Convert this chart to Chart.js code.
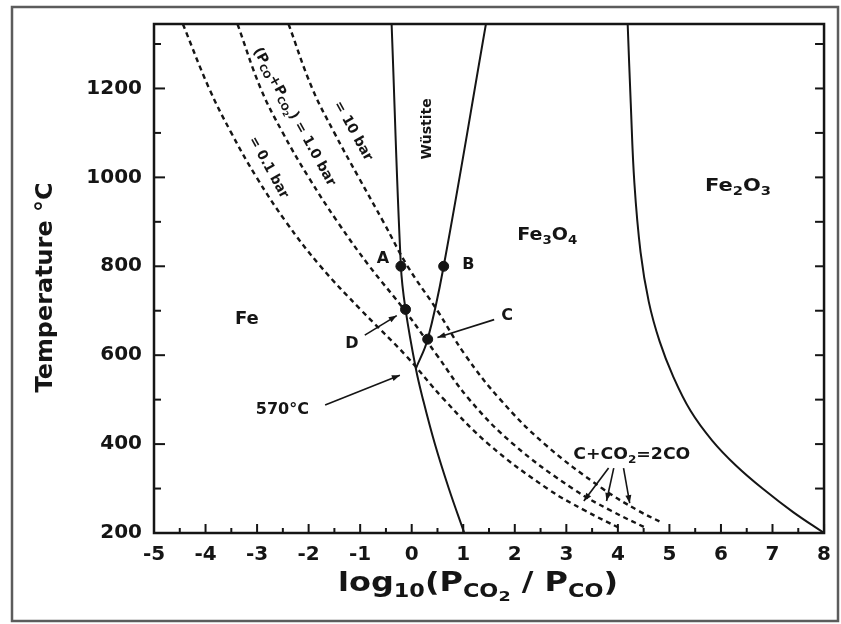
<!DOCTYPE html>
<html>
<head>
<meta charset="utf-8">
<script src="https://cdn.jsdelivr.net/npm/chart.js@4.4.1/dist/chart.umd.min.js"></script>
<style>
  html, body { margin: 0; padding: 0; background: #fff; }
  #wrap { position: relative; width: 841px; height: 624px; }
</style>
</head>
<body>
<div id="wrap"><canvas id="phaseChart" width="841" height="624"></canvas></div>
<script>
// ===================== DATA =====================
// x = log10(Pco2 / Pco), y = temperature in °C

// Fe | Wustite above 570 °C, Fe | Fe3O4 below
const feLineX = [-0.39, -0.21, -0.12, 0.08, 0.22, 0.45, 0.72, 1.02];
const feLineT = [1345, 800, 703, 570, 500, 400, 300, 200];

// Wustite | Fe3O4
const wustiteLineX = [0.08, 0.31, 0.62, 1.44];
const wustiteLineT = [570, 636, 800, 1345];

// Fe3O4 | Fe2O3
const hematiteLineX = [4.19, 4.25, 4.32, 4.44, 4.60, 4.81, 5.07, 5.41, 5.83, 6.29, 6.85, 7.40, 8.00];
const hematiteLineT = [1345, 1166, 988, 832, 720, 631, 553, 475, 408, 352, 296, 247, 200];

// C + CO2 = 2CO at (Pco + Pco2) = 0.1, 1.0 and 10 bar
const carbon01X = [-4.44, -3.93, -3.50, -3.01, -2.44, -1.77, -0.97, -0.12, 0.63, 1.49, 2.63, 3.37, 4.05];
const carbon01T = [1345, 1200, 1100, 1000, 900, 800, 700, 600, 500, 400, 300, 250, 210];
const carbon1X = [-3.38, -2.93, -2.50, -2.00, -1.44, -0.82, -0.13, 0.49, 1.12, 1.97, 3.12, 3.87, 4.57];
const carbon1T = [1345, 1200, 1100, 1000, 900, 800, 700, 600, 500, 400, 300, 250, 210];
const carbon10X = [-2.39, -1.93, -1.50, -1.03, -0.55, -0.08, 0.50, 1.04, 1.72, 2.58, 3.70, 4.40, 4.88];
const carbon10T = [1345, 1200, 1100, 1000, 900, 800, 700, 600, 500, 400, 300, 250, 222];

// marked points A, B, C, D
const pointNames = ['A', 'B', 'C', 'D'];
const pointX = [-0.21, 0.62, 0.31, -0.12];
const pointT = [800, 800, 636, 703];

// axis ticks
const xMin = -5, xMax = 8, xStep = 1;
const tMin = 200, tMax = 1345, tStep = 200;

// ===================== HELPERS =====================
const FONT = '"DejaVu Sans", "Liberation Sans", Arial, sans-serif';
const INK = '#151515';

function toPoints(xs, ts) {
  return xs.map((x, i) => ({ x: x, y: ts[i] }));
}

function boundary(xs, ts, dashed) {
  return {
    type: 'line',
    data: toPoints(xs, ts),
    borderColor: INK,
    borderWidth: dashed ? 2.4 : 2,
    borderDash: dashed ? [5, 4] : [],
    pointRadius: 0,
    tension: 0.4,
    fill: false
  };
}

// draws text made of parts: [text, level] with level 0 normal, 1 subscript, 2 sub-subscript
function richText(ctx, parts, x, y, size, align, stretch) {
  const sizes = [size, size * 0.7, size * 0.55];
  const drops = [0, size * 0.3, size * 0.48];
  let total = 0;
  const widths = parts.map(([t, lv]) => {
    ctx.font = 'bold ' + sizes[lv] + 'px ' + FONT;
    const w = ctx.measureText(t).width;
    total += w;
    return w;
  });
  const sx = stretch ? stretch / total : 1;
  ctx.save();
  ctx.translate(x, y);
  ctx.scale(sx, 1);
  let cx = align === 'center' ? -total / 2 : 0;
  ctx.textAlign = 'left';
  ctx.textBaseline = 'middle';
  parts.forEach(([t, lv], i) => {
    ctx.font = 'bold ' + sizes[lv] + 'px ' + FONT;
    ctx.fillText(t, cx, drops[lv]);
    cx += widths[i];
  });
  ctx.restore();
}

function arrow(ctx, x1, y1, x2, y2) {
  ctx.beginPath();
  ctx.moveTo(x1, y1);
  ctx.lineTo(x2, y2);
  ctx.stroke();
  const ang = Math.atan2(y2 - y1, x2 - x1), L = 8, W = 3;
  ctx.beginPath();
  ctx.moveTo(x2, y2);
  ctx.lineTo(x2 - L * Math.cos(ang) + W * Math.sin(ang), y2 - L * Math.sin(ang) - W * Math.cos(ang));
  ctx.lineTo(x2 - L * Math.cos(ang) - W * Math.sin(ang), y2 - L * Math.sin(ang) + W * Math.cos(ang));
  ctx.closePath();
  ctx.fill();
}

// ===================== OVERLAY PLUGIN =====================
const overlay = {
  id: 'overlay',
  beforeDraw(chart) {
    const ctx = chart.ctx;
    ctx.save();
    ctx.fillStyle = '#fff';
    ctx.fillRect(0, 0, chart.width, chart.height);
    ctx.strokeStyle = '#5c5c5c';
    ctx.lineWidth = 2.5;
    ctx.strokeRect(12, 7, 826, 614);
    ctx.restore();
  },
  afterDraw(chart) {
    const ctx = chart.ctx;
    const a = chart.chartArea;
    const xs = chart.scales.x, ys = chart.scales.y;
    const px = v => xs.getPixelForValue(v);
    const py = v => ys.getPixelForValue(v);

    ctx.save();
    ctx.strokeStyle = INK;
    ctx.fillStyle = INK;

    // plot frame
    ctx.lineWidth = 2.5;
    ctx.strokeRect(a.left, a.top, a.right - a.left, a.bottom - a.top);

    // inward ticks, majors from the scale, minors halfway between
    ctx.lineWidth = 2;
    const xt = xs.ticks.map(t => t.value);
    xt.forEach((v, i) => {
      const p = px(v);
      ctx.beginPath(); ctx.moveTo(p, a.bottom); ctx.lineTo(p, a.bottom - 9); ctx.stroke();
      if (i < xt.length - 1) {
        const m = px((v + xt[i + 1]) / 2);
        ctx.beginPath(); ctx.moveTo(m, a.bottom); ctx.lineTo(m, a.bottom - 5); ctx.stroke();
      }
    });
    const yt = ys.ticks.map(t => t.value);
    const yAll = [];
    yt.forEach((v, i) => {
      yAll.push([v, true]);
      const next = i < yt.length - 1 ? yt[i + 1] : v + tStep;
      const mid = (v + next) / 2;
      if (mid < tMax) yAll.push([mid, false]);
    });
    yAll.forEach(([v, major]) => {
      const p = py(v);
      ctx.beginPath(); ctx.moveTo(a.left, p); ctx.lineTo(a.left + (major ? 11 : 7), p); ctx.stroke();
      ctx.beginPath(); ctx.moveTo(a.right, p); ctx.lineTo(a.right - 9, p); ctx.stroke();
    });

    // region labels
    richText(ctx, [['Fe', 0]], px(-3.20), py(680), 18, 'center');
    richText(ctx, [['Fe', 0], ['3', 1], ['O', 0], ['4', 1]], px(2.63), py(868), 17, 'center', 60);
    richText(ctx, [['Fe', 0], ['2', 1], ['O', 0], ['3', 1]], px(6.33), py(979), 17, 'center', 66);
    ctx.save();
    ctx.translate(px(0.31), py(1109));
    ctx.rotate(-Math.PI / 2);
    richText(ctx, [['Wüstite', 0]], 0, 0, 14, 'center');
    ctx.restore();

    // point letters
    richText(ctx, [['A', 0]], px(-0.56), py(816), 16, 'center');
    richText(ctx, [['B', 0]], px(1.10), py(803), 16, 'center');
    richText(ctx, [['C', 0]], px(1.85), py(689), 16, 'center');
    richText(ctx, [['D', 0]], px(-1.16), py(625), 16, 'center');
    richText(ctx, [['570°C', 0]], px(-2.51), py(477), 16, 'center');
    richText(ctx, [['C+CO', 0], ['2', 1], ['=2CO', 0]], px(4.27), py(375), 16, 'center', 117);

    // labels along the dashed curves
    const rot = 61 * Math.PI / 180;
    const along = (parts, x, t, w) => {
      ctx.save();
      ctx.translate(px(x), py(t));
      ctx.rotate(rot);
      richText(ctx, parts, 0, 0, 14, 'center', w);
      ctx.restore();
    };
    along([['= 0.1 bar', 0]], -2.78, 1022, 68);
    along([['(P', 0], ['CO', 1], ['+P', 0], ['CO', 1], ['2', 2], [') = 1.0 bar', 0]], -2.28, 1136, 156);
    along([['= 10 bar', 0]], -1.14, 1104, 66);

    // arrows
    ctx.lineWidth = 1.6;
    arrow(ctx, px(-0.91), py(645), px(-0.29), py(689));
    arrow(ctx, px(1.60), py(680), px(0.50), py(640));
    arrow(ctx, px(-1.68), py(488), px(-0.23), py(555));
    arrow(ctx, px(3.82), py(346), px(3.34), py(272));
    arrow(ctx, px(3.92), py(346), px(3.78), py(272));
    arrow(ctx, px(4.11), py(346), px(4.23), py(267));

    // axis titles
    ctx.save();
    ctx.translate(46, (a.top + a.bottom) / 2 + 9);
    ctx.rotate(-Math.PI / 2);
    richText(ctx, [['Temperature °C', 0]], 0, 0, 23, 'center', 210);
    ctx.restore();
    richText(ctx, [['log', 0], ['10', 1], ['(P', 0], ['CO', 1], ['2', 2], [' / P', 0], ['CO', 1], [')', 0]],
      478, 584, 27, 'center', 280);

    ctx.restore();
  }
};

// ===================== CHART =====================
const datasets = [
  boundary(feLineX, feLineT, false),
  boundary(wustiteLineX, wustiteLineT, false),
  boundary(hematiteLineX, hematiteLineT, false),
  boundary(carbon01X, carbon01T, true),
  boundary(carbon1X, carbon1T, true),
  boundary(carbon10X, carbon10T, true),
  {
    type: 'scatter',
    label: 'points',
    data: toPoints(pointX, pointT),
    pointRadius: 5,
    pointBackgroundColor: INK,
    pointBorderColor: INK,
    showLine: false
  }
];

new Chart(document.getElementById('phaseChart'), {
  type: 'line',
  data: { datasets: datasets },
  options: {
    responsive: false,
    animation: false,
    devicePixelRatio: 1,
    layout: { padding: { top: 20, right: 13, left: 0, bottom: 0 } },
    plugins: { legend: { display: false }, tooltip: { enabled: false } },
    scales: {
      x: {
        type: 'linear',
        min: xMin,
        max: xMax,
        grid: { display: false, drawTicks: false },
        border: { display: false },
        ticks: {
          stepSize: xStep,
          padding: 10,
          color: INK,
          maxRotation: 0,
          autoSkip: false,
          callback: v => String(v),
          font: { family: FONT, weight: 'bold', size: 20 }
        },
        afterFit(scale) { scale.height = 91; }
      },
      y: {
        type: 'linear',
        min: tMin,
        max: tMax,
        grid: { display: false, drawTicks: false },
        border: { display: false },
        ticks: {
          stepSize: tStep,
          includeBounds: false,
          padding: 12,
          color: INK,
          callback: v => String(v),
          font: { family: FONT, weight: 'bold', size: 20 }
        },
        afterFit(scale) { scale.width = 154; }
      }
    }
  },
  plugins: [overlay]
});
</script>
</body>
</html>
